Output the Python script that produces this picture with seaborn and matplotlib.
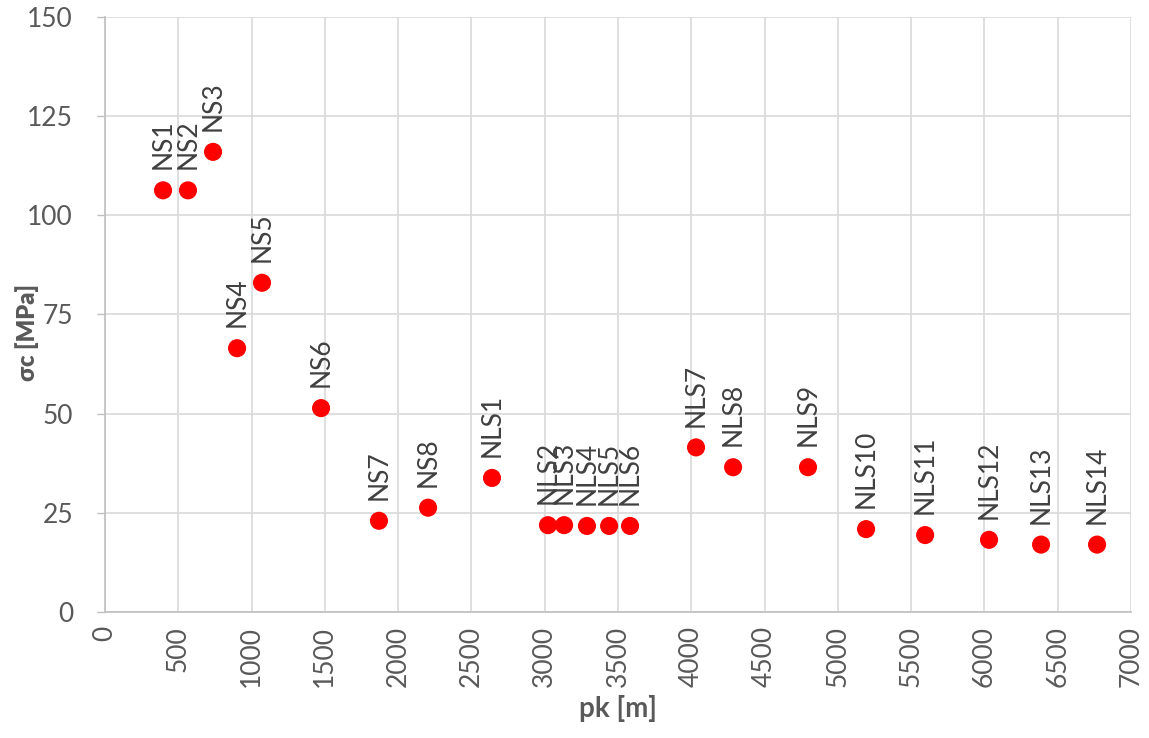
import matplotlib
matplotlib.use("Agg")
import matplotlib.pyplot as plt
import seaborn as sns
import pandas as pd

names = ["NS1", "NS2", "NS3", "NS4", "NS5", "NS6", "NS7", "NS8",
         "NLS1", "NLS2", "NLS3", "NLS4", "NLS5", "NLS6", "NLS7", "NLS8",
         "NLS9", "NLS10", "NLS11", "NLS12", "NLS13", "NLS14"]
pk = [396, 566, 737, 901, 1071, 1474, 1869, 2204,
      2640, 3022, 3132, 3288, 3439, 3582, 4032, 4285,
      4796, 5192, 5595, 6031, 6386, 6768]
sigma_c = [106.3, 106.3, 116.0, 66.5, 83.0, 51.4, 23.0, 26.3,
           33.8, 21.9, 21.9, 21.7, 21.7, 21.7, 41.5, 36.5,
           36.5, 20.9, 19.4, 18.2, 17.0, 17.0]
x_ticks = list(range(0, 7001, 500))
y_ticks = [0, 25, 50, 75, 100, 125, 150]

df = pd.DataFrame({"pk": pk, "sigma": sigma_c, "name": names})

sns.set_style("white")
plt.rcParams['font.family'] = ['Lato', 'DejaVu Sans']

fig = plt.figure(figsize=(11.49, 7.38), dpi=100)
ax = fig.add_axes([0.0914, 0.1707, 0.893, 0.8063])

sns.scatterplot(data=df, x="pk", y="sigma", ax=ax, color="#ff0000",
                s=170, edgecolor="none", zorder=3, legend=False)

for n, x, y in zip(names, pk, sigma_c):
    ax.annotate(n, (x, y), xytext=(0, 15), textcoords="offset points",
                rotation=90, ha="center", va="bottom", fontsize=19,
                color="#404040")

ax.set_xlim(0, 7000)
ax.set_ylim(0, 150)
ax.set_xticks(x_ticks)
ax.set_yticks(y_ticks)
ax.set_xticklabels([str(t) for t in x_ticks], rotation=90)
ax.tick_params(axis="x", labelsize=19, colors="#595959", length=0, pad=10)
ax.tick_params(axis="y", labelsize=19, colors="#595959", length=6,
               width=1, direction="out", left=True, pad=17)
ax.tick_params(axis="y", color="#bfbfbf")
ax.grid(True, color="#d9d9d9", linewidth=1.2)
ax.set_axisbelow(True)
for s in ["top", "right"]:
    ax.spines[s].set_visible(False)
for s in ["left", "bottom"]:
    ax.spines[s].set_color("#bfbfbf")
    ax.spines[s].set_linewidth(1.2)

ax.set_xlabel("pk [m]", fontsize=20, fontweight="bold", color="#595959", labelpad=6)
ax.set_ylabel("σc [MPa]", fontsize=17, fontweight="heavy", color="#595959")
ax.yaxis.set_label_coords(-0.064, 0.47)

fig.savefig("out.png", dpi=100)
